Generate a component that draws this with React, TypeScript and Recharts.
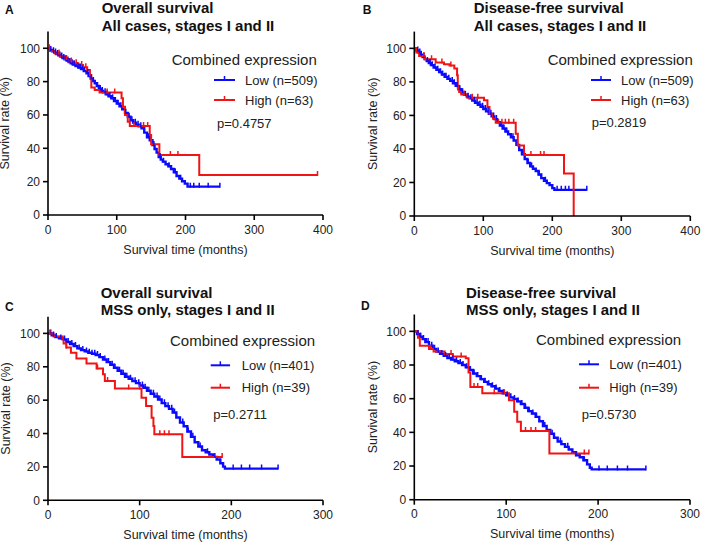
import React from "react";
import { ComposedChart, Line, Scatter, XAxis, YAxis } from "recharts";

type Pt = { t: number; s: number };
const toPts = (rows: number[][]): Pt[] => rows.map(([t, s]) => ({ t, s }));

// ---- data: [months, survival %] ----
const lowOsAll = toPts([
  [0, 100], [3, 99], [6, 98.2], [9, 97.4], [12, 96.6], [15, 95.8], [18, 95], [21, 94.2],
  [24, 93.4], [27, 92.6], [30, 91.8], [33, 91], [36, 90.3], [40, 89.4], [44, 88.4], [48, 87.5],
  [52, 86.4], [56, 85], [59, 83.4], [62, 81.8], [65, 80.4], [68, 79], [71, 77.4], [74, 75.6],
  [77, 74.4], [80, 73.6], [84, 72.4], [88, 71.2], [92, 70], [96, 68.4], [100, 66.8], [104, 65.2],
  [108, 63.4], [112, 61.2], [116, 59], [120, 56.8], [124, 55.4], [128, 54.2], [132, 53.2],
  [136, 52], [140, 49.4], [144, 46.6], [148, 44.8], [152, 42], [155, 39.6], [158, 37.4],
  [161, 34.8], [164, 33.2], [167, 32], [171, 30.4], [175, 29.2], [179, 27.6], [183, 25.6],
  [187, 23.4], [191, 21.8], [195, 20.2], [199, 18.8], [203, 17], [250, 17],
]);
const highOsAll = toPts([
  [0, 100], [3, 98.4], [10, 96.8], [17, 95.2], [24, 93.6], [31, 92.1], [38, 91], [44, 90],
  [51, 88.6], [57, 87], [61, 84], [63, 76.5], [68, 75], [75, 73.4], [107, 70], [109, 65],
  [112, 60], [116, 56], [119, 53.4], [148, 48], [150, 42.5], [162, 36], [220, 24], [392, 24],
]);
const lowDfsAll = toPts([
  [0, 100], [3, 98.8], [6, 97.5], [9, 96.2], [12, 94.8], [15, 93.6], [18, 92.4], [21, 91.2],
  [24, 90], [28, 88.6], [32, 87.2], [36, 85.8], [40, 84.4], [44, 83], [48, 81.8], [52, 80.6],
  [56, 79.2], [60, 77.6], [64, 75.6], [68, 73.8], [72, 72.4], [76, 71.2], [80, 70.2], [84, 68.8],
  [88, 67.6], [92, 66.4], [96, 65.2], [100, 63.8], [104, 62.4], [108, 61], [112, 59.4],
  [116, 57.8], [120, 56], [124, 54], [128, 52.2], [132, 50.4], [136, 48.8], [140, 47], [144, 45],
  [148, 42.4], [152, 39.4], [156, 36.8], [160, 34], [164, 31.6], [168, 29.6], [172, 28.2],
  [176, 26.8], [180, 24.8], [184, 22.6], [188, 21], [192, 19.6], [196, 18.4], [200, 16.6],
  [203, 15.6], [250, 15.6],
]);
const highDfsAll = toPts([
  [0, 100], [3, 97.5], [7, 95.5], [15, 93.5], [31, 91.5], [43, 90.5], [51, 89.8], [58, 88],
  [62, 84], [63, 76.5], [65, 74], [68, 72.5], [77, 70.6], [101, 69], [106, 65], [109, 61],
  [114, 58], [118, 55.6], [147, 49], [150, 42], [159, 36.4], [217, 25.4], [231, 0],
]);
const lowOsMss = toPts([
  [0, 100], [4, 98.8], [8, 97.8], [12, 97], [16, 96.4], [20, 94.8], [24, 93.6], [28, 92.4],
  [32, 91], [36, 90], [40, 89.2], [44, 88.4], [48, 87.8], [52, 87], [56, 85.8], [60, 84.4],
  [64, 82.8], [68, 81.2], [72, 79.4], [76, 77.6], [80, 75.8], [84, 74], [88, 72.8], [92, 71.4],
  [96, 70.2], [100, 68.8], [104, 67.4], [108, 65.6], [112, 63.8], [116, 62.2], [120, 60.4],
  [124, 58.2], [128, 56.4], [132, 54.8], [136, 52.6], [140, 49.6], [144, 46.6], [148, 44.4],
  [152, 41.2], [156, 38], [160, 34.8], [164, 32.2], [168, 30], [172, 28.8], [176, 27.4],
  [180, 26], [184, 24.4], [188, 22.2], [191, 20.2], [193, 19], [251, 19],
]);
const highOsMss = toPts([
  [0, 100], [6, 98.2], [16, 97], [17, 94], [20, 91.5], [25, 88.4], [31, 85], [42, 82],
  [53, 79], [60, 75.5], [62, 71.5], [73, 67], [102, 61.5], [107, 56.5], [113, 49.5],
  [115, 44.5], [116, 39.5], [146.5, 26], [190, 26],
]);
const lowDfsMss = toPts([
  [0, 100], [3, 98.4], [6, 96.8], [9, 95.4], [12, 93.6], [16, 91.4], [20, 89.6], [24, 88],
  [28, 86.6], [32, 85.4], [36, 84.2], [40, 83.2], [44, 82.2], [48, 81.2], [52, 80], [56, 78.6],
  [60, 77], [64, 75], [68, 73.4], [72, 71.6], [76, 70], [80, 68.6], [84, 67.4], [88, 66],
  [92, 64.6], [96, 63.2], [100, 62], [104, 60.8], [108, 59.8], [112, 58.4], [116, 56.8],
  [120, 54.6], [124, 52.6], [128, 51.2], [132, 49.2], [136, 46.6], [140, 43.8], [144, 41.4],
  [148, 39.2], [152, 36.8], [156, 34.6], [160, 33], [164, 31.4], [168, 29.8], [172, 28.2],
  [176, 26.4], [180, 25.2], [184, 23.4], [188, 21], [191, 19], [193, 18], [252, 18],
]);
const highDfsMss = toPts([
  [0, 100], [4, 96.2], [6, 91.5], [16, 89.5], [21, 88], [33, 86.5], [42, 85], [56, 84],
  [59, 75.5], [61, 67], [74, 63.2], [103, 59], [108.7, 52.3], [112, 46.3], [116, 40.8],
  [147, 27.4], [190, 27.4],
]);

// censoring times (months)
const lowCensorOsAll = [4, 8, 11, 14, 17, 20, 23, 26, 29, 32, 35, 38, 42, 45, 47, 50, 53, 58, 63, 66, 72, 76, 79, 83, 86, 90, 94, 98, 102, 106, 113, 118, 122, 127, 131, 135, 146, 154, 163, 168, 176, 185, 193, 207, 212, 220, 233, 250];
const highCensorOsAll = [2, 16, 27, 34, 41, 49, 55, 86, 97, 125, 139, 145, 178, 189, 392];
const lowCensorDfsAll = [5, 8, 10, 14, 19, 23, 26, 30, 34, 38, 41, 44, 46, 50, 55, 58, 62, 66, 70, 74, 78, 82, 87, 91, 95, 99, 103, 107, 111, 115, 119, 126, 130, 134, 143, 157, 165, 170, 181, 190, 207, 213, 219, 224, 250];
const highCensorDfsAll = [14, 25, 40, 53, 72, 84, 92, 122, 127, 132, 137, 144, 169, 183, 188];
const lowCensorOsMss = [3, 6, 9, 14, 18, 22, 26, 30, 34, 38, 42, 45, 48, 51, 54, 57, 62, 66, 70, 73, 78, 82, 86, 90, 95, 99, 103, 106, 110, 115, 119, 122, 127, 131, 135, 138, 147, 153, 158, 166, 174, 182, 202, 211, 220, 233, 251];
const highCensorOsMss = [2, 20, 54, 65, 88, 100, 122, 127, 132, 190];
const lowCensorDfsMss = [4, 7, 10, 13, 15, 19, 22, 26, 30, 34, 38, 42, 46, 50, 53, 57, 61, 65, 69, 73, 77, 81, 85, 89, 93, 97, 101, 105, 109, 113, 117, 121, 125, 129, 133, 142, 150, 159, 167, 176, 185, 201, 210, 221, 232, 252];
const highCensorDfsMss = [18, 40, 51, 65, 69, 87, 98, 121, 127, 132, 185, 190];

const panelLetters = ["A", "B", "C", "D"];
const titleLine1 = ["Overall survival", "Disease-free survival", "Overall survival", "Disease-free survival"];
const titleLine2 = ["All cases, stages I and II", "All cases, stages I and II", "MSS only, stages I and II", "MSS only, stages I and II"];
const lowLabels = ["Low (n=509)", "Low (n=509)", "Low (n=401)", "Low (n=401)"];
const highLabels = ["High (n=63)", "High (n=63)", "High (n=39)", "High (n=39)"];
const pValues = ["p=0.4757", "p=0.2819", "p=0.2711", "p=0.5730"];
const xTicksAll = [0, 100, 200, 300, 400];
const xTicksMss = [0, 100, 200, 300];
const yTicks = [0, 20, 40, 60, 80, 100];

const BLUE = "#0a0aff";
const RED = "#f01414";
const FONT = "'Liberation Sans', Arial, Helvetica, sans-serif";

const survivalAt = (curve: Pt[], t: number) => {
  let s = curve[0].s;
  for (const p of curve) if (p.t <= t) s = p.s;
  return s;
};
const censorPts = (curve: Pt[], times: number[]): Pt[] =>
  times.map((t) => ({ t, s: survivalAt(curve, t) }));

const censorShape = (color: string) => (props: any) => (
  <line x1={props.cx} x2={props.cx} y1={props.cy - 4} y2={props.cy + 1} stroke={color} strokeWidth={1.5} />
);

const panels = [
  {
    low: lowOsAll, high: highOsAll, lowC: lowCensorOsAll, highC: highCensorOsAll, xTicks: xTicksAll,
    pos: [0, 0], h: 271, margin: { top: 31.6, right: 28, bottom: 26, left: 8 },
    letter: [5, 13.5], title: [101.7, 13, 30.5], yTitleX: 9.5,
    legend: { tx: 171.7, ty: 65, s1: 214, s2: 235, r1: 80, r2: 100, ex: 245, px: 217, py: 128 },
  },
  {
    low: lowDfsAll, high: highDfsAll, lowC: lowCensorDfsAll, highC: highCensorDfsAll, xTicks: xTicksAll,
    pos: [351, 0], h: 271, margin: { top: 31.6, right: 11.7, bottom: 25, left: 23.3 },
    letter: [11.7, 13.5], title: [122.7, 13, 30.5], yTitleX: 26,
    legend: { tx: 196.7, ty: 65, s1: 240, s2: 260, r1: 80, r2: 100, ex: 270, px: 240.7, py: 127 },
  },
  {
    low: lowOsMss, high: highOsMss, lowC: lowCensorOsMss, highC: highCensorOsMss, xTicks: xTicksMss,
    pos: [0, 271], h: 272, margin: { top: 45.7, right: 28, bottom: 12.7, left: 8 },
    letter: [5, 40], title: [100.7, 27, 43.5], yTitleX: 9.5,
    legend: { tx: 170, ty: 75, s1: 210.7, s2: 230, r1: 94.3, r2: 116.7, ex: 241.7, px: 213.3, py: 148.3 },
  },
  {
    low: lowDfsMss, high: highDfsMss, lowC: lowCensorDfsMss, highC: highCensorDfsMss, xTicks: xTicksMss,
    pos: [351, 271], h: 272, margin: { top: 43.5, right: 12, bottom: 13.3, left: 23.3 },
    letter: [10, 39], title: [115, 27, 43.5], yTitleX: 26,
    legend: { tx: 185, ty: 74, s1: 228, s2: 248, r1: 93.3, r2: 116.7, ex: 258.3, px: 230.7, py: 148.3 },
  },
];

const axisStroke = { stroke: "#000", strokeWidth: 1.6 };
const tickStyle = { fill: "#222", fontSize: 12, fontFamily: FONT };

function Panel({ cfg, i }: { cfg: (typeof panels)[number]; i: number }) {
  const w = 351;
  const { margin, legend: lg } = cfg;
  const plotLeft = margin.left + 40;
  const plotRight = w - margin.right;
  const plotTop = margin.top;
  const plotBottom = cfg.h - margin.bottom - 30;
  const xMax = cfg.xTicks[cfg.xTicks.length - 1];
  const cy = (plotTop + plotBottom) / 2;
  return (
    <div style={{ position: "absolute", left: cfg.pos[0], top: cfg.pos[1], width: w, height: cfg.h }}>
      <ComposedChart width={w} height={cfg.h} margin={margin}>
        <XAxis
          type="number"
          dataKey="t"
          domain={[0, xMax]}
          ticks={cfg.xTicks}
          interval={0}
          height={30}
          tickSize={5}
          tickMargin={5}
          axisLine={axisStroke}
          tickLine={axisStroke}
          tick={tickStyle}
          allowDataOverflow
        />
        <YAxis
          type="number"
          dataKey="s"
          domain={[0, 110]}
          ticks={yTicks}
          interval={0}
          width={40}
          tickSize={5}
          tickMargin={3}
          axisLine={axisStroke}
          tickLine={axisStroke}
          tick={tickStyle}
          allowDataOverflow
        />
        <Line data={cfg.low} dataKey="s" type="stepAfter" stroke={BLUE} strokeWidth={2.4} dot={false} activeDot={false} isAnimationActive={false} name={lowLabels[i]} />
        <Line data={cfg.high} dataKey="s" type="stepAfter" stroke={RED} strokeWidth={2} dot={false} activeDot={false} isAnimationActive={false} name={highLabels[i]} />
        <Scatter data={censorPts(cfg.low, cfg.lowC)} dataKey="s" shape={censorShape(BLUE)} isAnimationActive={false} legendType="none" />
        <Scatter data={censorPts(cfg.high, cfg.highC)} dataKey="s" shape={censorShape(RED)} isAnimationActive={false} legendType="none" />
      </ComposedChart>
      <svg
        width={w}
        height={cfg.h}
        style={{ position: "absolute", left: 0, top: 0, pointerEvents: "none" }}
        fontFamily={FONT}
      >
        <text x={cfg.letter[0]} y={cfg.letter[1]} fontSize={12} fontWeight="bold" fill="#111">
          {panelLetters[i]}
        </text>
        <text x={cfg.title[0]} y={cfg.title[1]} fontSize={15} fontWeight="bold" fill="#111">
          {titleLine1[i]}
        </text>
        <text x={cfg.title[0]} y={cfg.title[2]} fontSize={15} fontWeight="bold" fill="#111">
          {titleLine2[i]}
        </text>
        <text
          x={cfg.yTitleX}
          y={cy}
          fontSize={12.5}
          fill="#222"
          textAnchor="middle"
          transform={`rotate(-90, ${cfg.yTitleX}, ${cy})`}
        >
          Survival rate (%)
        </text>
        <text x={(plotLeft + plotRight) / 2} y={plotBottom + 38.5} fontSize={12.5} fill="#222" textAnchor="middle">
          Survival time (months)
        </text>
        <text x={lg.tx} y={lg.ty} fontSize={15} fill="#222">
          Combined expression
        </text>
        <line x1={lg.s1} x2={lg.s2} y1={lg.r1} y2={lg.r1} stroke={BLUE} strokeWidth={2} />
        <line x1={(lg.s1 + lg.s2) / 2} x2={(lg.s1 + lg.s2) / 2} y1={lg.r1 - 4} y2={lg.r1} stroke={BLUE} strokeWidth={1.5} />
        <text x={lg.ex} y={lg.r1 + 4.5} fontSize={13} fill="#222">
          {lowLabels[i]}
        </text>
        <line x1={lg.s1} x2={lg.s2} y1={lg.r2} y2={lg.r2} stroke={RED} strokeWidth={2} />
        <line x1={(lg.s1 + lg.s2) / 2} x2={(lg.s1 + lg.s2) / 2} y1={lg.r2 - 4} y2={lg.r2} stroke={RED} strokeWidth={1.5} />
        <text x={lg.ex} y={lg.r2 + 4.5} fontSize={13} fill="#222">
          {highLabels[i]}
        </text>
        <text x={lg.px} y={lg.py} fontSize={13} fill="#222">
          {pValues[i]}
        </text>
      </svg>
    </div>
  );
}

export default function App() {
  return (
    <div style={{ position: "absolute", left: 0, top: 0, width: 702, height: 543, background: "#fff" }}>
      {panels.map((cfg, i) => (
        <Panel key={i} cfg={cfg} i={i} />
      ))}
    </div>
  );
}
